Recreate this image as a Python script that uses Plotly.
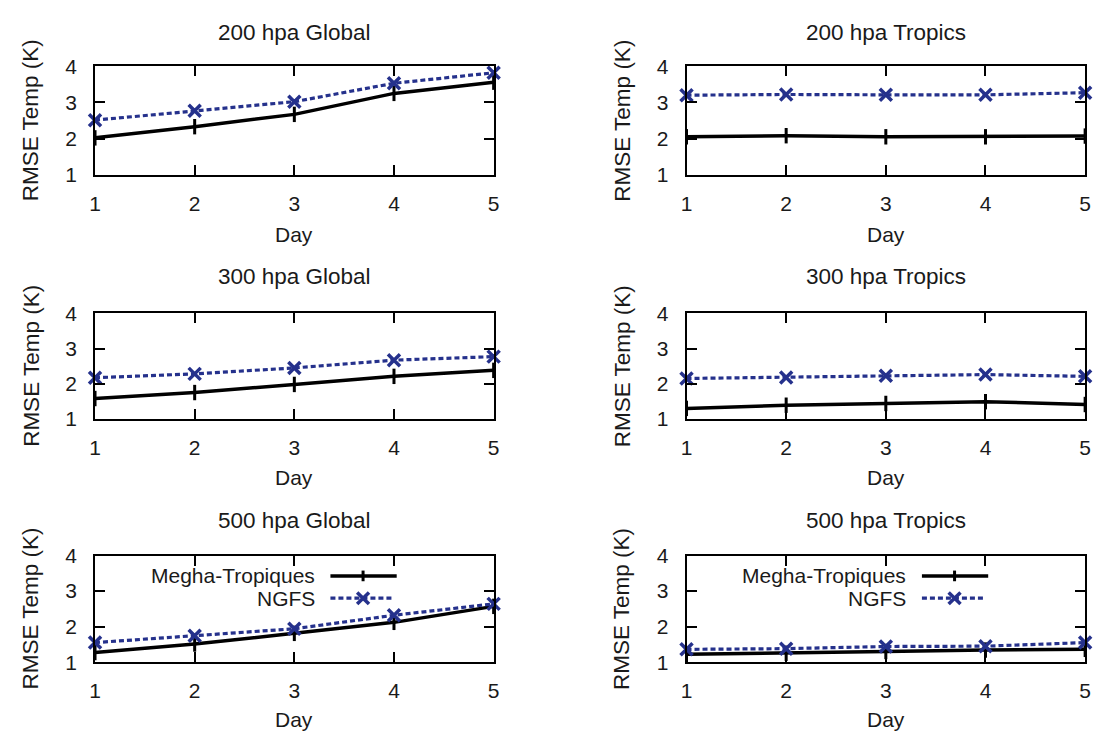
import plotly.graph_objects as go

# ---------------- data ----------------
days = [1, 2, 3, 4, 5]
y_ticks = [1, 2, 3, 4]
panel_titles = ["200 hpa Global", "200 hpa Tropics",
                "300 hpa Global", "300 hpa Tropics",
                "500 hpa Global", "500 hpa Tropics"]
series_names = ["Megha-Tropiques", "NGFS"]

megha_200_global = [2.02, 2.33, 2.67, 3.25, 3.56]
ngfs_200_global = [2.51, 2.77, 3.02, 3.53, 3.82]
megha_200_tropics = [2.05, 2.08, 2.05, 2.05, 2.07]
ngfs_200_tropics = [3.20, 3.22, 3.21, 3.21, 3.27]
megha_300_global = [1.58, 1.75, 1.98, 2.21, 2.38]
ngfs_300_global = [2.17, 2.28, 2.45, 2.67, 2.77]
megha_300_tropics = [1.30, 1.39, 1.44, 1.49, 1.41]
ngfs_300_tropics = [2.15, 2.18, 2.23, 2.26, 2.21]
megha_500_global = [1.27, 1.51, 1.81, 2.12, 2.57]
ngfs_500_global = [1.55, 1.74, 1.94, 2.32, 2.64]
megha_500_tropics = [1.22, 1.25, 1.30, 1.34, 1.36]
ngfs_500_tropics = [1.36, 1.38, 1.44, 1.45, 1.55]

megha_all = [megha_200_global, megha_200_tropics, megha_300_global,
             megha_300_tropics, megha_500_global, megha_500_tropics]
ngfs_all = [ngfs_200_global, ngfs_200_tropics, ngfs_300_global,
            ngfs_300_tropics, ngfs_500_global, ngfs_500_tropics]

# ---------------- style ----------------
W, H = 1103, 740
FONT = "Liberation Sans, Arial, Helvetica, sans-serif"
TXT = "#1a1a1a"
NAVY = "#25318c"
BLACK = "#000000"
FS_TICK = 21
FS_TITLE = 22.5
FS_DAY = 21
FS_YT = 22.5
FS_KEY = 21

# panel frames in pixels (left, right) and (top, bottom)
col_px = [(90, 493), (688, 1091)]
row_px = [(56, 168), (311, 420), (561, 671)]
title_y_px = [21, 273, 525]
day_y_px = [230, 480, 730]

fig = go.Figure()
layout = dict(
    width=W, height=H, margin=dict(l=0, r=0, t=0, b=0),
    paper_bgcolor="white", plot_bgcolor="white", showlegend=False,
    font=dict(family=FONT, size=FS_TICK, color=TXT),
)
annotations = []
shapes = []

for i in range(6):
    r, c = divmod(i, 2)
    k = i + 1
    xa = "x" if k == 1 else f"x{k}"
    ya = "y" if k == 1 else f"y{k}"
    x0p, x1p = col_px[c]
    t, b = row_px[r]
    xdom = [x0p / W, x1p / W]
    ydom = [1 - b / H, 1 - t / H]

    common = dict(showline=True, linecolor=BLACK, linewidth=2, mirror="ticks",
                  ticks="inside", ticklen=10, tickwidth=2, tickcolor=BLACK,
                  showgrid=False, zeroline=False,
                  tickfont=dict(family=FONT, size=FS_TICK, color=TXT))
    layout["xaxis" if k == 1 else f"xaxis{k}"] = dict(
        domain=xdom, range=[1, 5], tickvals=days, anchor=ya,
        ticklabelstandoff=9, **common)
    layout["yaxis" if k == 1 else f"yaxis{k}"] = dict(
        domain=ydom, range=[1, 4], tickvals=y_ticks, anchor=xa,
        ticklabelstandoff=12, **common)

    fig.add_trace(go.Scatter(
        x=days, y=megha_all[i], xaxis=xa, yaxis=ya, name=series_names[0],
        mode="lines+markers", cliponaxis=False,
        line=dict(color=BLACK, width=3.5),
        marker=dict(symbol="line-ns-open", size=11, color=BLACK,
                    line=dict(color=BLACK, width=3))))
    fig.add_trace(go.Scatter(
        x=days, y=ngfs_all[i], xaxis=xa, yaxis=ya, name=series_names[1],
        mode="lines+markers", cliponaxis=False,
        line=dict(color=NAVY, width=3.2, dash="5px,3px"),
        marker=dict(symbol="x-thin-open", size=12, color=NAVY,
                    line=dict(color=NAVY, width=3.5))))

    cx = (x0p + x1p) / 2 / W
    annotations.append(dict(text=panel_titles[i], x=cx, y=1 - title_y_px[r] / H,
                            xref="paper", yref="paper", showarrow=False,
                            xanchor="center", yanchor="middle",
                            font=dict(family=FONT, size=FS_TITLE, color=TXT)))
    annotations.append(dict(text="Day", x=cx, y=1 - day_y_px[r] / H,
                            xref="paper", yref="paper", showarrow=False,
                            xanchor="center", yanchor="middle",
                            font=dict(family=FONT, size=FS_DAY, color=TXT)))
    annotations.append(dict(text="RMSE Temp (K)", x=(x0p - 65) / W,
                            y=1 - (t + b) / 2 / H, textangle=-90,
                            xref="paper", yref="paper", showarrow=False,
                            xanchor="center", yanchor="middle",
                            font=dict(family=FONT, size=FS_YT, color=TXT)))

    # gnuplot-style key (text left, sample right) in the bottom panels
    if r == 2:
        xd = f"{xa} domain"
        yd = f"{ya} domain"
        pw = x1p - x0p
        ph = b - t
        key_rows = [(b - 582) / ph, (b - 605) / ph]
        txt_x = 223 / pw
        s0, s1, sm = 238 / pw, 305 / pw, 271 / pw
        for j, ky in enumerate(key_rows):
            annotations.append(dict(text=series_names[j], x=txt_x, y=ky,
                                    xref=xd, yref=yd, showarrow=False,
                                    xanchor="right", yanchor="middle",
                                    borderpad=0,
                                    font=dict(family=FONT, size=FS_KEY, color=TXT)))
        shapes.append(dict(type="line", xref=xd, yref=yd, x0=s0, x1=s1,
                           y0=key_rows[0], y1=key_rows[0],
                           line=dict(color=BLACK, width=3.5)))
        shapes.append(dict(type="line", xref=xd, yref=yd, x0=sm, x1=sm,
                           y0=key_rows[0] - 5.5 / ph, y1=key_rows[0] + 5.5 / ph,
                           line=dict(color=BLACK, width=3)))
        shapes.append(dict(type="line", xref=xd, yref=yd, x0=s0, x1=s1 - 4 / pw,
                           y0=key_rows[1], y1=key_rows[1],
                           line=dict(color=NAVY, width=3.2, dash="5px,3px")))
        dx, dy = 6 / pw, 6 / ph
        shapes.append(dict(type="line", xref=xd, yref=yd, x0=sm - dx, x1=sm + dx,
                           y0=key_rows[1] - dy, y1=key_rows[1] + dy,
                           line=dict(color=NAVY, width=3.5)))
        shapes.append(dict(type="line", xref=xd, yref=yd, x0=sm - dx, x1=sm + dx,
                           y0=key_rows[1] + dy, y1=key_rows[1] - dy,
                           line=dict(color=NAVY, width=3.5)))

layout["annotations"] = annotations
layout["shapes"] = shapes
fig.update_layout(**layout)
fig.write_html("out.html")
